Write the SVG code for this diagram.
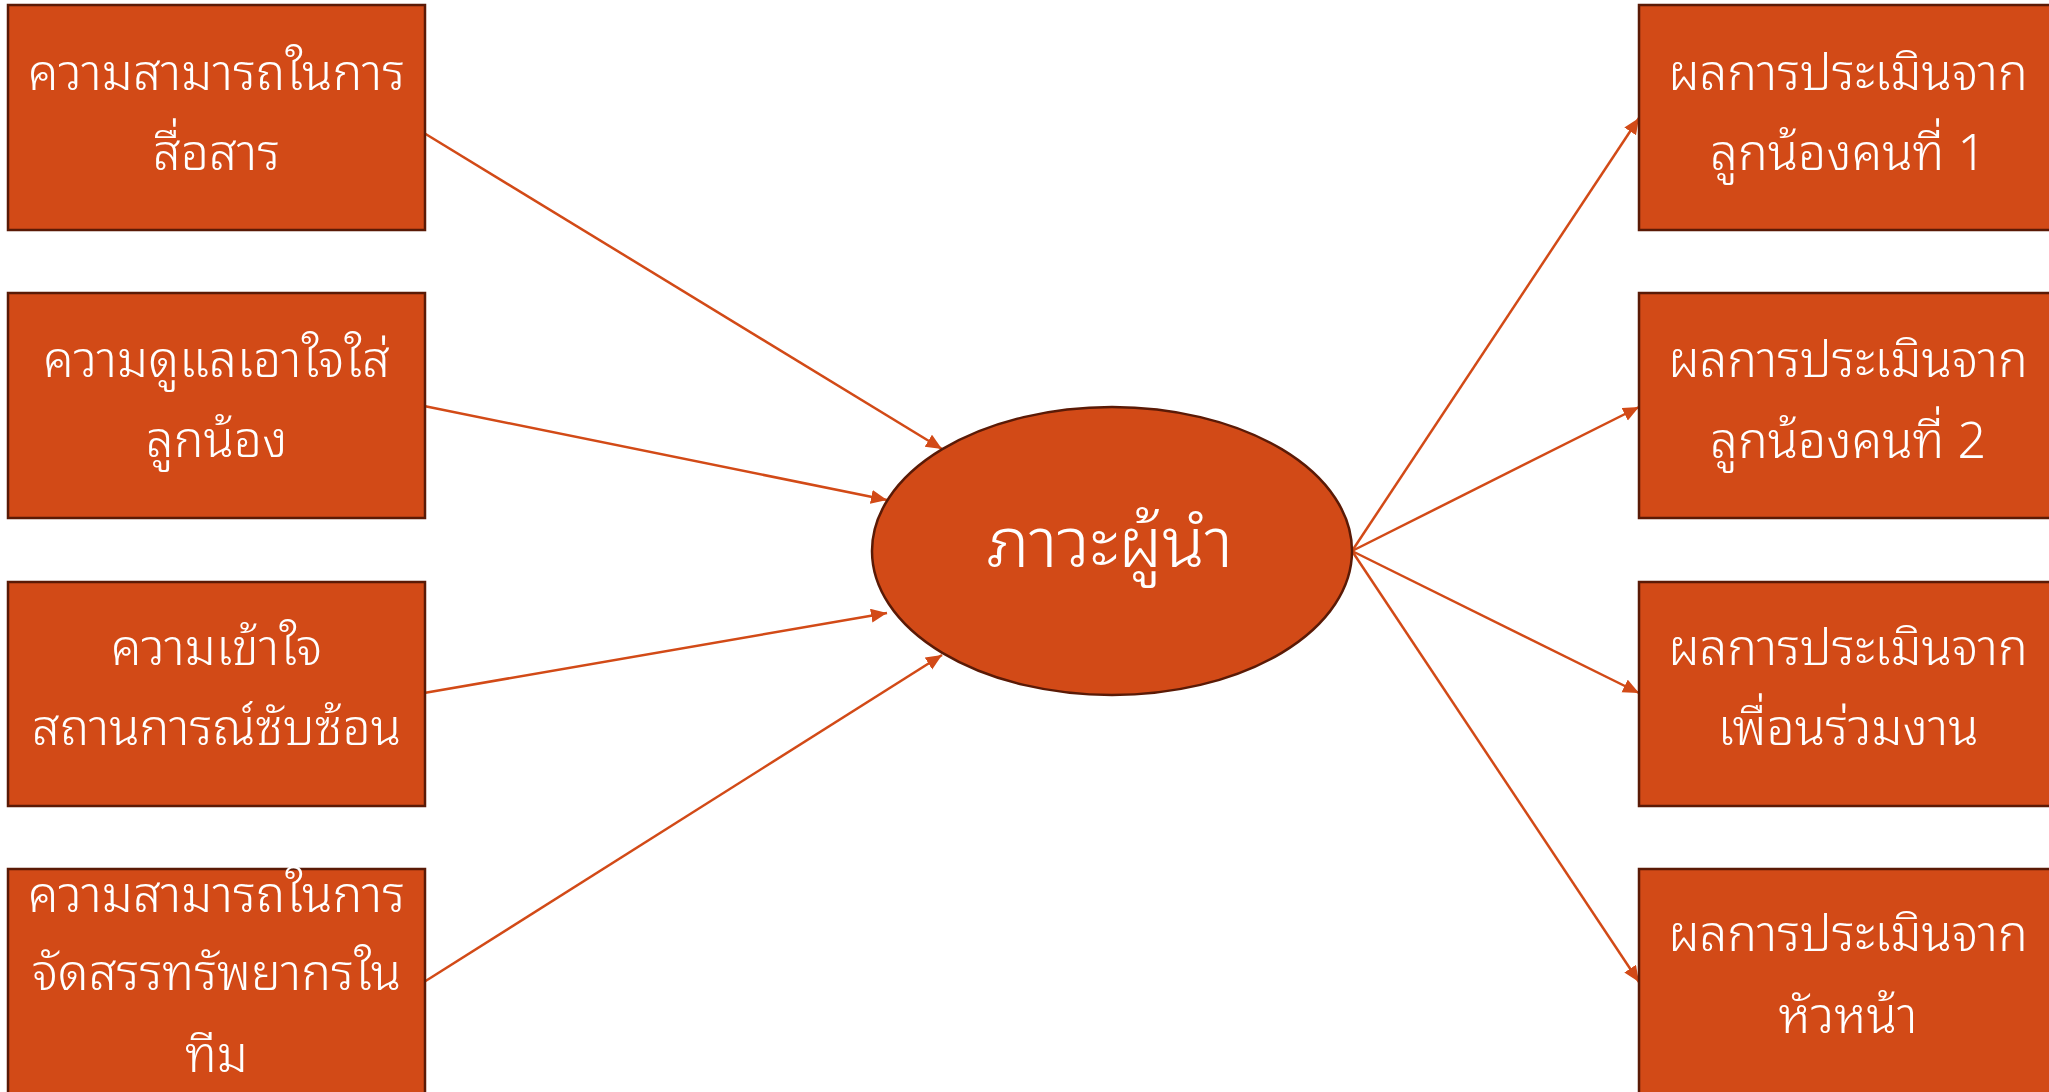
<svg xmlns="http://www.w3.org/2000/svg" width="2049" height="1092" viewBox="0 0 2049 1092">
<style>
.box{fill:#D24A17;stroke:#5A1A06;stroke-width:2.5}
.t{fill:#FFFFFF;font-family:"Noto Sans Thai Looped","Loma","Noto Sans Thai","Noto Sans","DejaVu Sans",sans-serif;font-size:50px;font-weight:300;text-anchor:middle}
.big{font-size:70px}
.c{stroke:#D24A17;stroke-width:2.5;fill:none;marker-end:url(#ah)}
</style>
<defs>
<marker id="ah" markerUnits="userSpaceOnUse" markerWidth="18" markerHeight="16" refX="16" refY="7" orient="auto">
<path d="M0,0 L16,7 L0,14 Z" fill="#D24A17"/>
</marker>
</defs>
<rect width="2049" height="1092" fill="#FFFFFF"/>
<g id="connectors">
<line class="c" x1="424" y1="133" x2="942" y2="449"/>
<line class="c" x1="424" y1="406" x2="887" y2="500"/>
<line class="c" x1="424" y1="693" x2="887" y2="613"/>
<line class="c" x1="424" y1="982" x2="942" y2="655"/>
<line class="c" x1="1352" y1="551" x2="1639" y2="118"/>
<line class="c" x1="1352" y1="551" x2="1639" y2="407"/>
<line class="c" x1="1352" y1="551" x2="1639" y2="693"/>
<line class="c" x1="1352" y1="551" x2="1639" y2="982"/>
</g>
<g id="n1">
<rect class="box" x="8" y="5" width="417" height="225"/>
<text class="t" x="216.5" y="90">ความสามารถในการ</text>
<text class="t" x="216.5" y="170">สื่อสาร</text>
</g>
<g id="n2">
<rect class="box" x="8" y="293" width="417" height="225"/>
<text class="t" x="216.5" y="377">ความดูแลเอาใจใส่</text>
<text class="t" x="216.5" y="457">ลูกน้อง</text>
</g>
<g id="n3">
<rect class="box" x="8" y="582" width="417" height="224"/>
<text class="t" x="216.5" y="665">ความเข้าใจ</text>
<text class="t" x="216.5" y="745">สถานการณ์ซับซ้อน</text>
</g>
<g id="n4">
<rect class="box" x="8" y="869" width="417" height="225"/>
<text class="t" x="216.5" y="912">ความสามารถในการ</text>
<text class="t" x="216.5" y="990">จัดสรรทรัพยากรใน</text>
<text class="t" x="216.5" y="1072">ทีม</text>
</g>
<g id="center">
<ellipse cx="1112" cy="551" rx="240" ry="144" fill="#D24A17" stroke="#5A1A06" stroke-width="2.5"/>
<text class="t big" x="1110" y="567">ภาวะผู้นำ</text>
</g>
<g id="r1">
<rect class="box" x="1639" y="5" width="418" height="225"/>
<text class="t" x="1848" y="90">ผลการประเมินจาก</text>
<text class="t" x="1848" y="170">ลูกน้องคนที่ 1</text>
</g>
<g id="r2">
<rect class="box" x="1639" y="293" width="418" height="225"/>
<text class="t" x="1848" y="377">ผลการประเมินจาก</text>
<text class="t" x="1848" y="458">ลูกน้องคนที่ 2</text>
</g>
<g id="r3">
<rect class="box" x="1639" y="582" width="418" height="224"/>
<text class="t" x="1848" y="665">ผลการประเมินจาก</text>
<text class="t" x="1848" y="745">เพื่อนร่วมงาน</text>
</g>
<g id="r4">
<rect class="box" x="1639" y="869" width="418" height="225"/>
<text class="t" x="1848" y="951">ผลการประเมินจาก</text>
<text class="t" x="1848" y="1033">หัวหน้า</text>
</g>
</svg>
